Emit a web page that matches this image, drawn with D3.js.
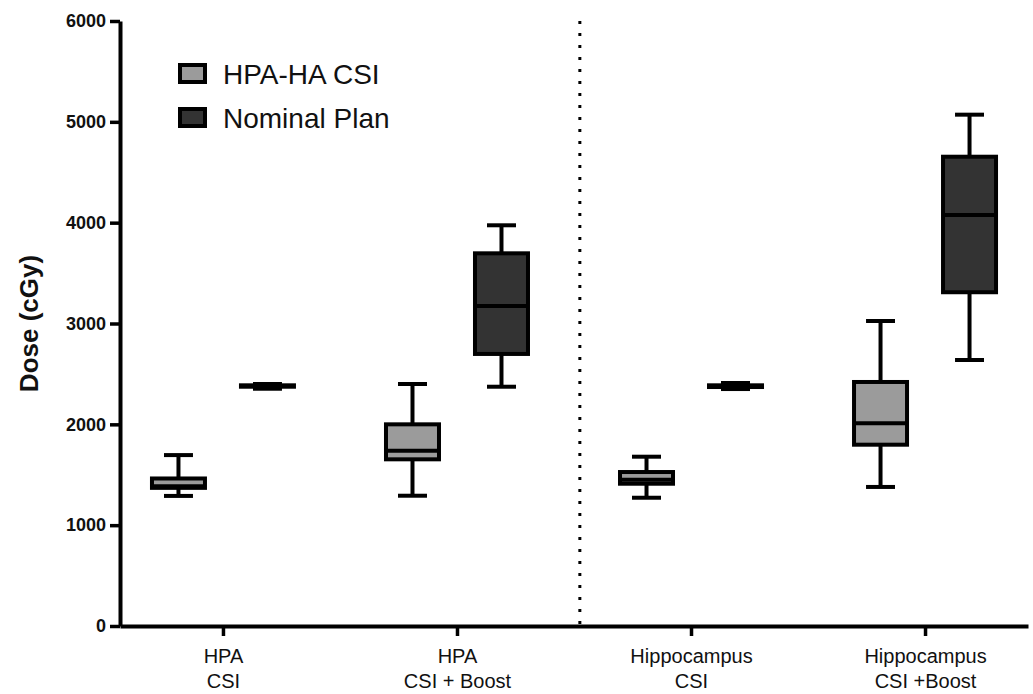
<!DOCTYPE html>
<html>
<head>
<meta charset="utf-8">
<script src="https://cdn.jsdelivr.net/npm/d3@7"></script>
<style>
  html, body { margin: 0; padding: 0; background: #fff; }
  svg { display: block; }
  text { font-family: Arial, "Liberation Sans", Helvetica, sans-serif; fill: #111; }
</style>
</head>
<body>
<svg id="chart" width="1033" height="694"></svg>
<script>
// ---- Data ----
const categories = ["HPA CSI", "HPA CSI + Boost", "Hippocampus CSI", "Hippocampus CSI +Boost"];
const categoryLabelLines = [["HPA", "CSI"], ["HPA", "CSI + Boost"], ["Hippocampus", "CSI"], ["Hippocampus", "CSI +Boost"]];
const series = ["HPA-HA CSI", "Nominal Plan"];
// box stats per category: [min, q1, median, q3, max]
const hpaHaCsiStats = [
  [1290, 1370, 1385, 1463, 1695],
  [1292, 1653, 1739, 2000, 2400],
  [1272, 1411, 1451, 1527, 1679],
  [1379, 1798, 2010, 2420, 3025]
];
const nominalPlanStats = [
  [2353, 2373, 2380, 2387, 2400],
  [2373, 2698, 3174, 3696, 3974],
  [2350, 2370, 2378, 2387, 2410],
  [2638, 3310, 4076, 4654, 5071]
];
const yTicks = [0, 1000, 2000, 3000, 4000, 5000, 6000];
const yTitle = "Dose (cGy)";
const seriesColors = ["#9b9b9b", "#333333"];

// ---- Layout ----
const svg = d3.select("#chart");
const x = d3.scalePoint().domain(categories).range([120, 1028]).padding(0.44);
const xSub = d3.scalePoint().domain(series).range([-44.5, 44.5]);
const y = d3.scaleLinear().domain([0, 6000]).range([626, 21]);
const boxW = 53, capW = 29, sw = 4;

// Divider (dotted) between HPA and Hippocampus groups
const dividerX = x(categories[1]) + x.step() * 0.525;
svg.append("line")
  .attr("x1", dividerX).attr("x2", dividerX)
  .attr("y1", y(6000)).attr("y2", y(0))
  .attr("stroke", "#000").attr("stroke-width", 3)
  .attr("stroke-dasharray", "3,9");

// Y axis
const yAxis = svg.append("g")
  .attr("transform", "translate(120,0)")
  .call(d3.axisLeft(y).tickValues(yTicks).tickFormat(d3.format("d")).tickSize(10).tickSizeOuter(0).tickPadding(4));
yAxis.select(".domain").attr("stroke", "#000").attr("stroke-width", 4);
yAxis.selectAll(".tick line").attr("stroke", "#000").attr("stroke-width", 3.5);
yAxis.selectAll(".tick text")
  .style("font-family", "Arial, 'Liberation Sans', Helvetica, sans-serif")
  .style("font-size", "18px").style("font-weight", "bold").attr("fill", "#111");

// X axis
const xAxis = svg.append("g")
  .attr("transform", "translate(0,626)")
  .call(d3.axisBottom(x).tickSize(10).tickSizeOuter(0).tickFormat(""));
xAxis.select(".domain").attr("stroke", "#000").attr("stroke-width", 4);
xAxis.selectAll(".tick line").attr("stroke", "#000").attr("stroke-width", 3.5);
xAxis.selectAll(".tick text").remove();
xAxis.selectAll(".tick").each(function(d, i) {
  const t = d3.select(this).append("text")
    .attr("text-anchor", "middle")
    .style("font-size", "20px")
    .attr("fill", "#111");
  categoryLabelLines[i].forEach((ln, j) => {
    t.append("tspan").attr("x", 0).attr("y", 37 + j * 25).text(ln);
  });
});

// Y title
svg.append("text")
  .attr("transform", `translate(38,${(y(0) + y(6000)) / 2}) rotate(-90)`)
  .attr("text-anchor", "middle")
  .style("font-size", "26px").style("font-weight", "bold")
  .text(yTitle);

// Boxes
const allStats = [hpaHaCsiStats, nominalPlanStats];
series.forEach((s, si) => {
  const g = svg.append("g");
  allStats[si].forEach((st, ci) => {
    const cx = x(categories[ci]) + xSub(s);
    const [mn, q1, md, q3, mx] = st;
    const bg = g.append("g");
    // whiskers
    bg.append("line").attr("x1", cx).attr("x2", cx).attr("y1", y(mx)).attr("y2", y(q3))
      .attr("stroke", "#000").attr("stroke-width", sw);
    bg.append("line").attr("x1", cx).attr("x2", cx).attr("y1", y(q1)).attr("y2", y(mn))
      .attr("stroke", "#000").attr("stroke-width", sw);
    // caps
    [mn, mx].forEach(v => {
      bg.append("line").attr("x1", cx - capW / 2).attr("x2", cx + capW / 2)
        .attr("y1", y(v)).attr("y2", y(v))
        .attr("stroke", "#000").attr("stroke-width", sw);
    });
    // box
    bg.append("rect")
      .attr("x", cx - boxW / 2).attr("width", boxW)
      .attr("y", y(q3)).attr("height", Math.max(0.5, y(q1) - y(q3)))
      .attr("fill", seriesColors[si]).attr("stroke", "#000").attr("stroke-width", sw);
    // median
    bg.append("line").attr("x1", cx - boxW / 2).attr("x2", cx + boxW / 2)
      .attr("y1", y(md)).attr("y2", y(md))
      .attr("stroke", "#000").attr("stroke-width", sw);
  });
});

// Legend
const legend = svg.append("g");
series.forEach((s, i) => {
  const ly = 65 + i * 44;
  legend.append("rect").attr("x", 180).attr("y", ly).attr("width", 25).attr("height", 17)
    .attr("fill", seriesColors[i]).attr("stroke", "#000").attr("stroke-width", 4);
  legend.append("text").attr("x", 223).attr("y", ly + 19)
    .style("font-size", "28px").text(s);
});
</script>
</body>
</html>
